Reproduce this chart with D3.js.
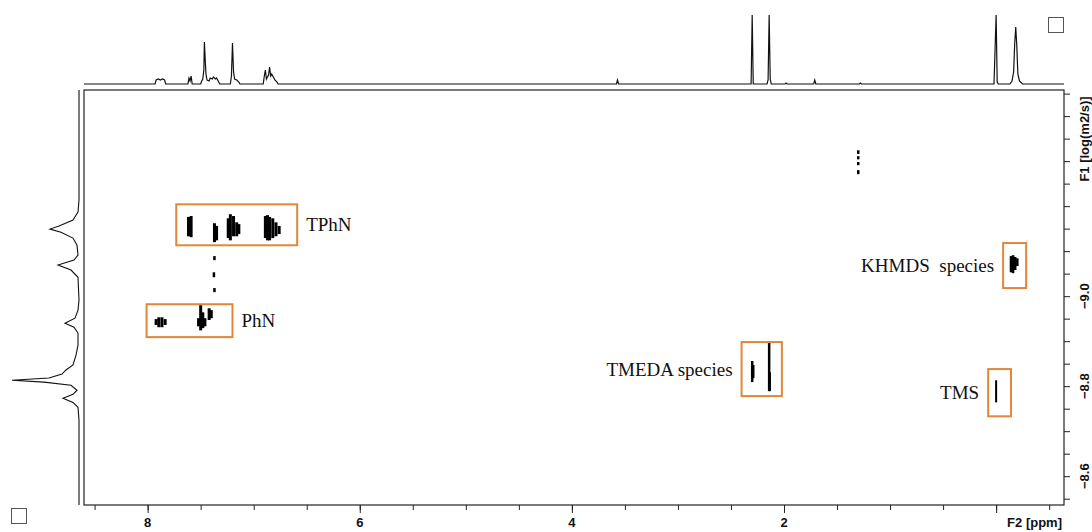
<!DOCTYPE html>
<html><head><meta charset="utf-8">
<script src="https://cdn.jsdelivr.net/npm/d3@7"></script>
<style>body{margin:0;background:#fff} svg{display:block}</style>
</head><body><svg id="c" width="1092" height="532"></svg>
<script>
// ---------------- data ----------------
const xMajorTicks = [8, 6, 4, 2];
const xMinorTicks = [8.5, 8, 7.5, 7, 6.5, 6, 5.5, 5, 4.5, 4, 3.5, 3, 2.5, 2, 1.5, 1, 0.5, 0, -0.5];
const yMajorTicks = [-9.0, -8.8, -8.6];
const yMinorTicks = [-9.45, -9.4, -9.35, -9.3, -9.25, -9.2, -9.15, -9.1, -9.05, -9.0, -8.95, -8.9, -8.85, -8.8, -8.75, -8.7, -8.65, -8.6, -8.55];
const xTitle = "F2 [ppm]";
const yTitle = "F1 [log(m2/s)]";

// 1D 1H spectrum (top projection): chemical shift (ppm) and intensity
const topPpm = [8.6, 7.93, 7.92, 7.90, 7.88, 7.86, 7.84, 7.83,
  7.62, 7.61, 7.60, 7.59, 7.58,
  7.50, 7.49, 7.48, 7.47, 7.465, 7.455, 7.45, 7.44, 7.42, 7.41, 7.39, 7.38, 7.36, 7.35, 7.33, 7.32,
  7.22, 7.21, 7.20, 7.19, 7.18, 7.16, 7.14, 7.13,
  6.91, 6.90, 6.89, 6.88, 6.86, 6.85, 6.84, 6.83, 6.81, 6.80, 6.78, 6.77,
  3.58, 3.57, 3.56,
  2.31, 2.30, 2.29, 2.16, 2.15, 2.14, 2.13, 2.12,
  1.99, 1.98, 1.97, 1.72, 1.71, 1.70, 1.29, 1.28, 1.27,
  0.02, 0.0, -0.01, -0.02,
  -0.13, -0.15, -0.165, -0.175, -0.185, -0.195, -0.205, -0.22, -0.25, -0.64];
const topInt = [0, 0, 4, 5, 4, 5, 4, 0,
  0, 6, 3, 8, 0,
  0, 3, 5, 14, 42, 20, 10, 4, 3, 6, 5, 7, 5, 6, 2, 0,
  0, 8, 41, 12, 5, 4, 2, 0,
  0, 8, 14, 5, 9, 17, 8, 10, 6, 4, 2, 0,
  0, 4, 0,
  0, 69, 0, 0, 4, 69, 5, 0,
  0, 1, 0, 0, 4, 0, 0, 1, 0,
  0, 69, 2, 0,
  0, 3, 12, 40, 57, 38, 10, 3, 0, 0];

// diffusion projection (left): log D and intensity
const leftLogD = [-9.458, -9.213, -9.187, -9.169, -9.156, -9.149, -9.142, -9.129, -9.113, -9.091, -9.080, -9.069,
  -9.058, -9.042, -8.991, -8.969, -8.951, -8.940, -8.931, -8.918, -8.891, -8.869, -8.847, -8.836, -8.827,
  -8.818, -8.813, -8.809, -8.802, -8.791, -8.782, -8.773, -8.764, -8.753, -8.724, -8.536];
const leftInt = [0, 0, 1, 6, 20, 29, 18, 6, 2, 1, 5, 21,
  8, 1, 0, 1, 4, 14, 5, 1, 1, 3, 6, 13, 17,
  30, 67, 35, 8, 2, 6, 16, 6, 1, 0, 0];

// 2D cross peaks: contour strokes [ppm, logD top, logD bottom]
const tphnPeaks = [
  [7.615, -9.176, -9.133], [7.59, -9.178, -9.131],
  [7.37, -9.162, -9.120], [7.35, -9.156, -9.124],
  [7.24, -9.173, -9.129], [7.22, -9.182, -9.124], [7.19, -9.178, -9.133], [7.16, -9.164, -9.133], [7.14, -9.160, -9.138],
  [6.89, -9.178, -9.129], [6.87, -9.180, -9.124], [6.85, -9.176, -9.124], [6.82, -9.173, -9.129], [6.79, -9.164, -9.133], [6.76, -9.156, -9.138]
];
const tphnTrail = [[7.37, -9.089, -9.080], [7.375, -9.053, -9.042], [7.37, -9.018, -9.009]];
const phnPeaks = [
  [7.92, -8.949, -8.936], [7.895, -8.953, -8.931], [7.865, -8.953, -8.931], [7.835, -8.949, -8.936],
  [7.52, -8.951, -8.933], [7.50, -8.980, -8.924], [7.48, -8.964, -8.929], [7.46, -8.951, -8.933],
  [7.42, -8.973, -8.947], [7.40, -8.969, -8.951]
];
const minorPeaks = [[1.30, -9.324, -9.316], [1.30, -9.311, -9.304], [1.30, -9.298, -9.291], [1.30, -9.280, -9.271]];
const khmdsPeaks = [[-0.14, -9.089, -9.053], [-0.16, -9.091, -9.051], [-0.18, -9.087, -9.058], [-0.20, -9.084, -9.067]];
const tmedaPeaks = [[2.30, -8.856, -8.809], [2.29, -8.847, -8.818], [2.14, -8.898, -8.789], [2.135, -8.831, -8.789]];
const tmsPeaks = [[0.0, -8.813, -8.764]];

// annotation boxes: label, ppm left/right, logD top/bottom
const boxLabels = ["TPhN", "PhN", "TMEDA species", "TMS", "KHMDS  species"];
const boxPpm = [[7.73, 6.59], [8.01, 7.20], [2.40, 2.02], [0.075, -0.14], [-0.066, -0.283]];
const boxLogD = [[-9.204, -9.113], [-8.982, -8.909], [-8.898, -8.778], [-8.838, -8.733], [-9.118, -9.018]];
const boxLabelSide = ["right", "right", "left", "left", "left"];

// ---------------- drawing ----------------
const svg = d3.select("#c");
const L = 84, R = 1064, T = 90, B = 505;
const x = d3.scaleLinear().domain([8.6, -0.64]).range([L, R]);
const y = d3.scaleLinear().domain([-9.458, -8.536]).range([T, B]);
const topY = d3.scaleLinear().domain([0, 69]).range([84, 15]);
const leftX = d3.scaleLinear().domain([0, 67]).range([79, 12]);
const axisFont = "bold 13px 'Liberation Sans', Arial, sans-serif";

// top spectrum
const topData = topPpm.map((p, i) => [p, topInt[i]]);
svg.append("path")
  .attr("d", d3.line().x(d => x(d[0])).y(d => topY(d[1]))(topData))
  .attr("fill", "none").attr("stroke", "#111").attr("stroke-width", 1.2);

// left projection
const leftData = leftLogD.map((v, i) => [v, leftInt[i]]);
svg.append("path")
  .attr("d", d3.line().x(d => leftX(d[1])).y(d => y(d[0]))(leftData))
  .attr("fill", "none").attr("stroke", "#111").attr("stroke-width", 1.1);

// frame
svg.append("rect").attr("x", L).attr("y", T).attr("width", R - L).attr("height", B - T)
  .attr("fill", "none").attr("stroke", "#222").attr("stroke-width", 1.2);

// x axis
const gx = svg.append("g").attr("transform", `translate(0,${B})`);
gx.call(d3.axisBottom(x).tickValues(xMinorTicks).tickSize(5).tickFormat(""));
gx.append("g").call(d3.axisBottom(x).tickValues(xMajorTicks.concat([0])).tickSize(8).tickFormat(""));
gx.selectAll(".domain").remove();
gx.selectAll("line").attr("stroke", "#222");
gx.selectAll(".lbl").data(xMajorTicks).join("text").attr("class", "lbl")
  .attr("x", d => x(d)).attr("y", 22).attr("text-anchor", "middle")
  .style("font", axisFont).attr("fill", "#111").text(d => d);
gx.append("text").attr("x", R - 2).attr("y", 22).attr("text-anchor", "end")
  .style("font", axisFont).attr("fill", "#111").text(xTitle);

// y axis
const gy = svg.append("g").attr("transform", `translate(${R},0)`);
gy.call(d3.axisRight(y).tickValues(yMinorTicks).tickSize(6).tickFormat(""));
gy.selectAll(".domain").remove();
gy.selectAll("line").attr("stroke", "#222");
gy.selectAll(".lbl").data(yMajorTicks).join("text").attr("class", "lbl")
  .attr("transform", d => `translate(20,${y(d)}) rotate(-90)`)
  .attr("text-anchor", "middle").attr("dy", "0.35em")
  .style("font", axisFont).attr("fill", "#111").text(d => d3.format(".1f")(d));
gy.append("text").attr("transform", `translate(20,139) rotate(-90)`)
  .attr("text-anchor", "middle").attr("dy", "0.35em")
  .style("font", axisFont).attr("fill", "#111").text(yTitle);

// cross peaks
const peakGroups = [[tphnPeaks, 3], [tphnTrail, 2.5], [phnPeaks, 3], [minorPeaks, 2.5], [khmdsPeaks, 2.5], [tmedaPeaks, 2.5], [tmsPeaks, 2]];
peakGroups.forEach(([arr, w]) => {
  svg.append("g").selectAll("line").data(arr).join("line")
    .attr("x1", d => x(d[0])).attr("x2", d => x(d[0]))
    .attr("y1", d => y(d[1])).attr("y2", d => y(d[2]))
    .attr("stroke", "#000").attr("stroke-width", w);
});

// annotation boxes and labels
boxLabels.forEach((lab, i) => {
  const x0 = x(boxPpm[i][0]), x1 = x(boxPpm[i][1]);
  const y0 = y(boxLogD[i][0]), y1 = y(boxLogD[i][1]);
  svg.append("rect").attr("x", x0).attr("y", y0).attr("width", x1 - x0).attr("height", y1 - y0)
    .attr("fill", "none").attr("stroke", "#E0873A").attr("stroke-width", 2);
  const right = boxLabelSide[i] === "right";
  svg.append("text")
    .attr("x", right ? x1 + 9 : x0 - 9)
    .attr("y", (y0 + y1) / 2).attr("dy", "0.35em")
    .attr("text-anchor", right ? "start" : "end")
    .style("font", "19px 'Liberation Serif', 'Times New Roman', serif")
    .style("white-space", "pre")
    .attr("fill", "#111").text(lab);
});

// checkbox squares
svg.append("rect").attr("x", 1048.5).attr("y", 17.5).attr("width", 15).attr("height", 15)
  .attr("fill", "none").attr("stroke", "#555").attr("stroke-width", 1);
svg.append("rect").attr("x", 11.5).attr("y", 508.5).attr("width", 15).attr("height", 15)
  .attr("fill", "none").attr("stroke", "#555").attr("stroke-width", 1);
</script></body></html>
